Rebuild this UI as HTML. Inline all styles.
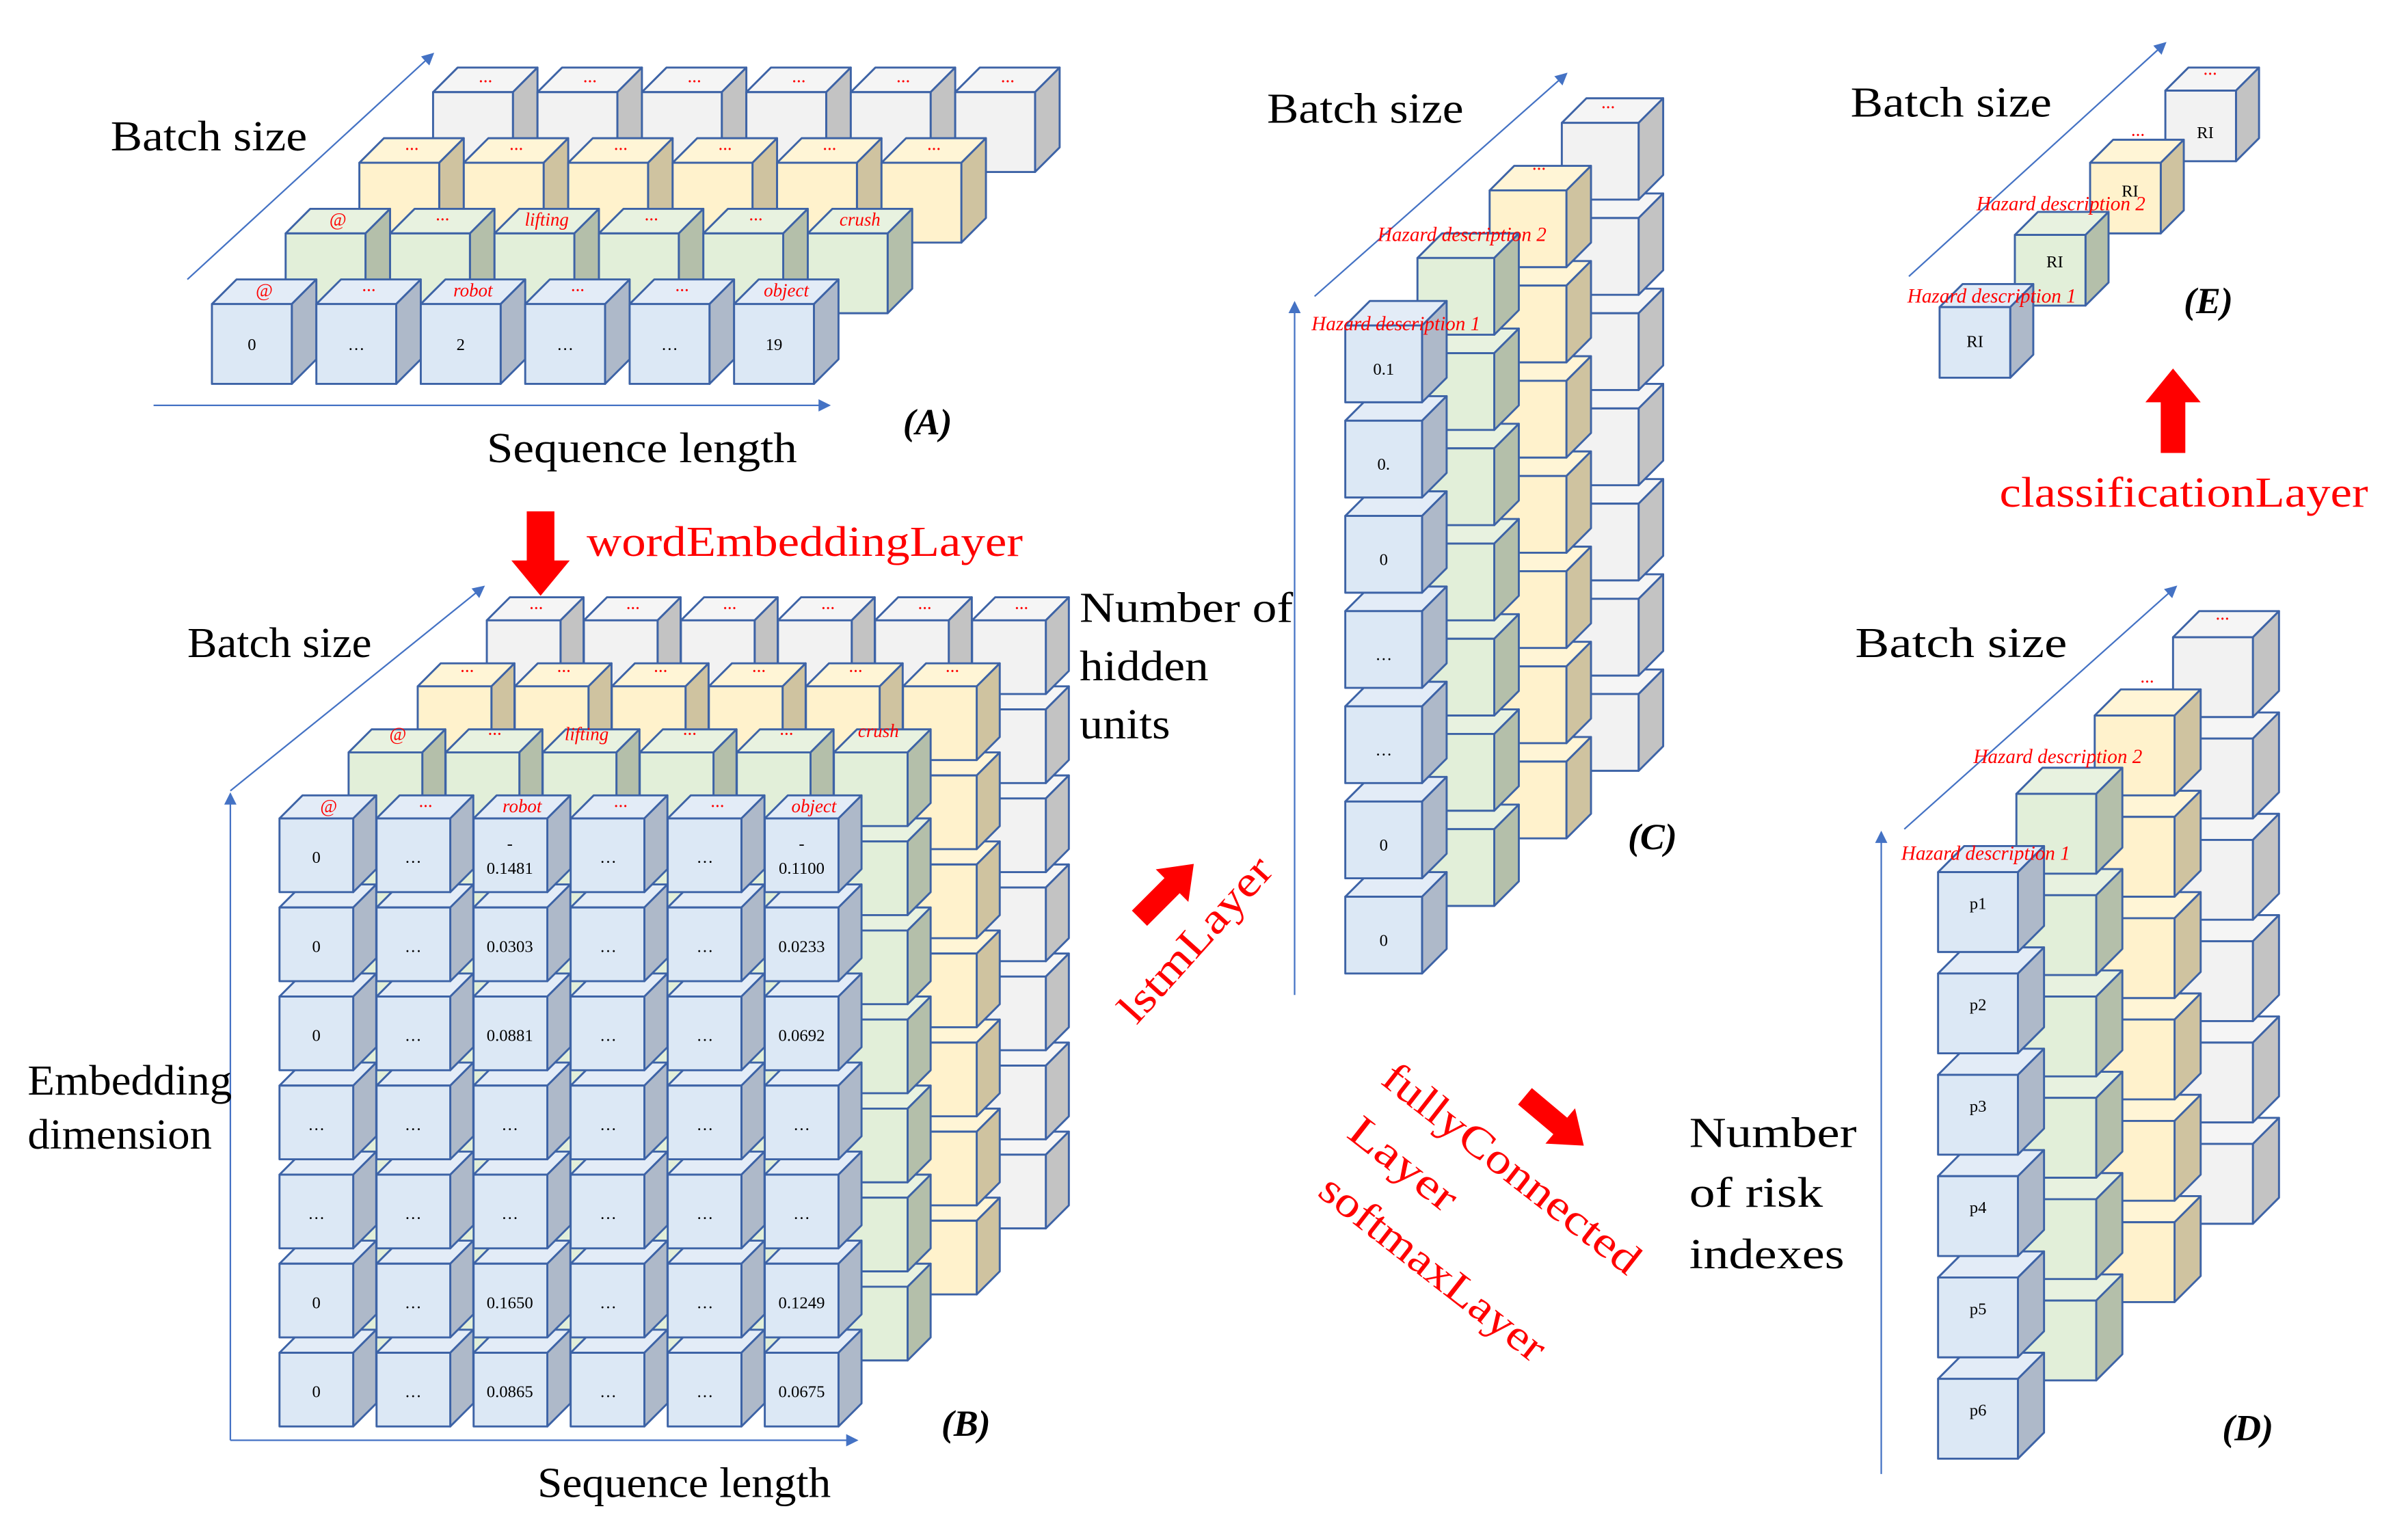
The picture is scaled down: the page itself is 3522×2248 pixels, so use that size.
<!DOCTYPE html>
<html><head><meta charset="utf-8"><style>
html,body{margin:0;padding:0;background:#fff}
svg{display:block}
text{font-family:"Liberation Serif",serif}
.lb{font-size:28px;fill:#000}
.rd{fill:#f00}
.hz{font-size:13px;fill:#f00;font-style:italic}
.tl{font-size:12px;fill:#f00;font-style:italic;text-anchor:middle}
.v{font-size:11px;fill:#000;text-anchor:middle}
.pl{font-size:24px;font-style:italic;font-weight:bold}
</style></head><body>
<svg id="s" width="3522" height="2248" viewBox="0 0 1568 1001" preserveAspectRatio="none" xmlns="http://www.w3.org/2000/svg">
<defs><marker id="ar" markerWidth="8" markerHeight="8" refX="7" refY="4" orient="auto" markerUnits="userSpaceOnUse"><path d="M0,0 L8,4 L0,8 z" fill="#4472c4"/></marker></defs>
<g id="cubes"></g>
<g stroke="#4472c4" stroke-width="1" fill="none" marker-end="url(#ar)">
<line x1="122" y1="182" x2="282" y2="35"/>
<line x1="100" y1="264" x2="540" y2="264"/>
<line x1="150" y1="515" x2="315" y2="382"/>
<line x1="150" y1="938" x2="150" y2="517"/>
<line x1="150" y1="938" x2="558" y2="938"/>
<line x1="856" y1="193" x2="1020" y2="48"/>
<line x1="843" y1="648" x2="843" y2="197"/>
<line x1="1240" y1="540" x2="1417" y2="382"/>
<line x1="1225" y1="960" x2="1225" y2="542"/>
<line x1="1243" y1="180" x2="1410" y2="28"/>
</g>
<g fill="#f00">
<polygon points="343,333 361,333 361,365 371,365 352,388 333,365 343,365"/>
<polygon points="1407,295 1423,295 1423,262 1433,262 1415,240 1397,262 1407,262"/>
<polygon points="0,-7 30,-7 30,-15 50,0 30,15 30,7 0,7" transform="translate(742,598) rotate(-45)"/>
<polygon points="0,-7 30,-7 30,-15 50,0 30,15 30,7 0,7" transform="translate(993,714) rotate(40)"/>
</g>
<!-- labels -->
<text class="lb" x="72" y="98" textLength="128" lengthAdjust="spacingAndGlyphs">Batch size</text>
<text class="lb" x="317" y="301" textLength="202" lengthAdjust="spacingAndGlyphs">Sequence length</text>
<text class="pl" x="588" y="283">(A)</text>
<text class="lb rd" x="382" y="362" textLength="284" lengthAdjust="spacingAndGlyphs">wordEmbeddingLayer</text>
<text class="lb" x="122" y="428" textLength="120" lengthAdjust="spacingAndGlyphs">Batch size</text>
<text class="lb" x="703" y="405" textLength="139" lengthAdjust="spacingAndGlyphs">Number of</text>
<text class="lb" x="703" y="443" textLength="84" lengthAdjust="spacingAndGlyphs">hidden</text>
<text class="lb" x="703" y="481" textLength="59" lengthAdjust="spacingAndGlyphs">units</text>
<text class="lb" x="18" y="713" textLength="133" lengthAdjust="spacingAndGlyphs">Embedding</text>
<text class="lb" x="18" y="748" textLength="120" lengthAdjust="spacingAndGlyphs">dimension</text>
<text class="lb" x="350" y="975" textLength="191" lengthAdjust="spacingAndGlyphs">Sequence length</text>
<text class="pl" x="613" y="935">(B)</text>
<text class="lb rd" transform="translate(740,668) rotate(-48)" textLength="135" lengthAdjust="spacingAndGlyphs">lstmLayer</text>
<text class="lb" x="825" y="80" textLength="128" lengthAdjust="spacingAndGlyphs">Batch size</text>
<text class="pl" x="1060" y="553">(C)</text>
<text class="lb rd" transform="translate(898,705) rotate(38)" textLength="205" lengthAdjust="spacingAndGlyphs">fullyConnected</text>
<text class="lb rd" transform="translate(876,740) rotate(38)" textLength="82" lengthAdjust="spacingAndGlyphs">Layer</text>
<text class="lb rd" transform="translate(857,778) rotate(38)" textLength="179" lengthAdjust="spacingAndGlyphs">softmaxLayer</text>
<text class="lb" x="1100" y="747" textLength="109" lengthAdjust="spacingAndGlyphs">Number</text>
<text class="lb" x="1100" y="786" textLength="87" lengthAdjust="spacingAndGlyphs">of risk</text>
<text class="lb" x="1100" y="826" textLength="101" lengthAdjust="spacingAndGlyphs">indexes</text>
<text class="pl" x="1447" y="938">(D)</text>
<text class="lb" x="1205" y="76" textLength="131" lengthAdjust="spacingAndGlyphs">Batch size</text>
<text class="pl" x="1422" y="204">(E)</text>
<text class="lb rd" x="1302" y="330" textLength="240" lengthAdjust="spacingAndGlyphs">classificationLayer</text>
<text class="lb" x="1208" y="428" textLength="138" lengthAdjust="spacingAndGlyphs">Batch size</text>
<!-- A cube text -->
<g>
<text class="tl" x="172" y="193">@</text><text class="tl" x="240" y="193">···</text><text class="tl" x="308" y="193">robot</text><text class="tl" x="376" y="193">···</text><text class="tl" x="444" y="193">···</text><text class="tl" x="512" y="193">object</text>
<text class="tl" x="220" y="147">@</text><text class="tl" x="288" y="147">···</text><text class="tl" x="356" y="147">lifting</text><text class="tl" x="424" y="147">···</text><text class="tl" x="492" y="147">···</text><text class="tl" x="560" y="147">crush</text>
<text class="tl" x="268" y="101">···</text><text class="tl" x="336" y="101">···</text><text class="tl" x="404" y="101">···</text><text class="tl" x="472" y="101">···</text><text class="tl" x="540" y="101">···</text><text class="tl" x="608" y="101">···</text>
<text class="tl" x="316" y="57">···</text><text class="tl" x="384" y="57">···</text><text class="tl" x="452" y="57">···</text><text class="tl" x="520" y="57">···</text><text class="tl" x="588" y="57">···</text><text class="tl" x="656" y="57">···</text>
<text class="v" x="164" y="228">0</text><text class="v" x="232" y="228">…</text><text class="v" x="300" y="228">2</text><text class="v" x="368" y="228">…</text><text class="v" x="436" y="228">…</text><text class="v" x="504" y="228">19</text>
</g>
<!-- B cube text -->
<g>
<text class="tl" x="214" y="529">@</text><text class="tl" x="277" y="529">···</text><text class="tl" x="340" y="529">robot</text><text class="tl" x="404" y="529">···</text><text class="tl" x="467" y="529">···</text><text class="tl" x="530" y="529">object</text>
<text class="tl" x="259" y="482">@</text><text class="tl" x="322" y="482">···</text><text class="tl" x="382" y="482">lifting</text><text class="tl" x="449" y="482">···</text><text class="tl" x="512" y="482">···</text><text class="tl" x="572" y="480">crush</text>
<text class="tl" x="304" y="441">···</text><text class="tl" x="367" y="441">···</text><text class="tl" x="430" y="441">···</text><text class="tl" x="494" y="441">···</text><text class="tl" x="557" y="441">···</text><text class="tl" x="620" y="441">···</text>
<text class="tl" x="349" y="400">···</text><text class="tl" x="412" y="400">···</text><text class="tl" x="475" y="400">···</text><text class="tl" x="539" y="400">···</text><text class="tl" x="602" y="400">···</text><text class="tl" x="665" y="400">···</text>
<text class="v" x="206" y="562">0</text><text class="v" x="269" y="562">…</text><text class="v" x="332" y="553">-</text><text class="v" x="332" y="569">0.1481</text><text class="v" x="396" y="562">…</text><text class="v" x="459" y="562">…</text><text class="v" x="522" y="553">-</text><text class="v" x="522" y="569">0.1100</text>
<text class="v" x="206" y="620">0</text><text class="v" x="269" y="620">…</text><text class="v" x="332" y="620">0.0303</text><text class="v" x="396" y="620">…</text><text class="v" x="459" y="620">…</text><text class="v" x="522" y="620">0.0233</text>
<text class="v" x="206" y="678">0</text><text class="v" x="269" y="678">…</text><text class="v" x="332" y="678">0.0881</text><text class="v" x="396" y="678">…</text><text class="v" x="459" y="678">…</text><text class="v" x="522" y="678">0.0692</text>
<text class="v" x="206" y="736">…</text><text class="v" x="269" y="736">…</text><text class="v" x="332" y="736">…</text><text class="v" x="396" y="736">…</text><text class="v" x="459" y="736">…</text><text class="v" x="522" y="736">…</text>
<text class="v" x="206" y="794">…</text><text class="v" x="269" y="794">…</text><text class="v" x="332" y="794">…</text><text class="v" x="396" y="794">…</text><text class="v" x="459" y="794">…</text><text class="v" x="522" y="794">…</text>
<text class="v" x="206" y="852">0</text><text class="v" x="269" y="852">…</text><text class="v" x="332" y="852">0.1650</text><text class="v" x="396" y="852">…</text><text class="v" x="459" y="852">…</text><text class="v" x="522" y="852">0.1249</text>
<text class="v" x="206" y="910">0</text><text class="v" x="269" y="910">…</text><text class="v" x="332" y="910">0.0865</text><text class="v" x="396" y="910">…</text><text class="v" x="459" y="910">…</text><text class="v" x="522" y="910">0.0675</text>
</g>
<!-- C text -->
<g>
<text class="v" x="901" y="244">0.1</text><text class="v" x="901" y="306">0.</text><text class="v" x="901" y="368">0</text><text class="v" x="901" y="430">…</text><text class="v" x="901" y="492">…</text><text class="v" x="901" y="554">0</text><text class="v" x="901" y="616">0</text>
<text class="hz" x="854" y="215">Hazard description 1</text>
<text class="hz" x="897" y="157">Hazard description 2</text>
<text class="tl" x="1002" y="114">···</text><text class="tl" x="1047" y="74">···</text>
</g>
<!-- D text -->
<g>
<text class="v" x="1288" y="592">p1</text><text class="v" x="1288" y="658">p2</text><text class="v" x="1288" y="724">p3</text><text class="v" x="1288" y="790">p4</text><text class="v" x="1288" y="856">p5</text><text class="v" x="1288" y="922">p6</text>
<text class="hz" x="1238" y="560">Hazard description 1</text>
<text class="hz" x="1285" y="497">Hazard description 2</text>
<text class="tl" x="1398" y="448">···</text><text class="tl" x="1447" y="407">···</text>
</g>
<!-- E text -->
<g>
<text class="v" x="1286" y="226">RI</text><text class="v" x="1338" y="174">RI</text><text class="v" x="1387" y="128">RI</text><text class="v" x="1436" y="90">RI</text>
<text class="hz" x="1242" y="197">Hazard description 1</text>
<text class="hz" x="1287" y="137">Hazard description 2</text>
<text class="tl" x="1392" y="92">···</text><text class="tl" x="1439" y="52">···</text>
</g>
</svg>
<script>
(function(){
var g=document.getElementById('cubes'),NS='http://www.w3.org/2000/svg';
var C={b:['#dce8f5','#aeb9c9','#e3ecf7'],g:['#e2efd9','#b4bfaa','#e8f2e0'],y:['#fff2cc','#cfc3a0','#fff5d6'],w:['#f2f2f2','#c3c3c3','#f5f5f5']};
function p(pts,f){var e=document.createElementNS(NS,'polygon');e.setAttribute('points',pts.map(function(a){return a.join(',')}).join(' '));e.setAttribute('fill',f);e.setAttribute('stroke','#3d63a6');e.setAttribute('stroke-width','1.3');e.setAttribute('stroke-linejoin','round');g.appendChild(e);}
function cube(x,y,s,d,c){var k=C[c];
p([[x,y],[x+d,y-d],[x+s+d,y-d],[x+s,y]],k[2]);
p([[x+s,y],[x+s+d,y-d],[x+s+d,y+s-d],[x+s,y+s]],k[1]);
p([[x,y],[x+s,y],[x+s,y+s],[x,y+s]],k[0]);}
var L=['w','y','g','b'];
for(var l=0;l<4;l++){var k=3-l;for(var i=0;i<6;i++)cube(138+68*i+48*k,198-46*k,52,16,L[l]);}
for(var l=0;l<4;l++){var k=3-l;for(var r=6;r>=0;r--)for(var i=0;i<6;i++)cube(182+63.2*i+45*k,533+58*r-43*k,48,15,L[l]);}
for(var l=0;l<4;l++){var k=3-l;for(var r=6;r>=0;r--)cube(876+47*k,212+62*r-44*k,50,16,L[l]);}
for(var l=0;l<4;l++){var k=3-l;for(var r=5;r>=0;r--)cube(1262+51*k,568+66*r-51*k,52,17,L[l]);}
for(var l=0;l<4;l++){var k=3-l;cube(1263+49*k,200-47*k,46,15,L[l]);}
})();
</script>
</body></html>
